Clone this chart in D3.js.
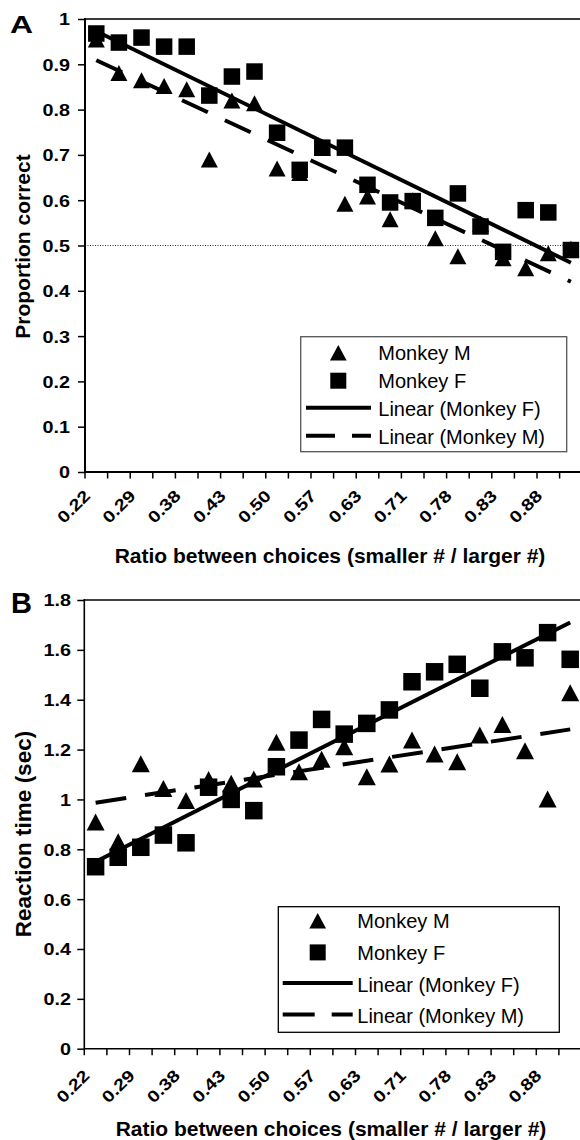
<!DOCTYPE html>
<html><head><meta charset="utf-8">
<script src="https://cdn.jsdelivr.net/npm/d3@7"></script>
<style>
body{margin:0;background:#fff}
svg{display:block}
text{font-family:"Liberation Sans",Arial,Helvetica,sans-serif;fill:#000}
</style>
</head><body>
<svg id="chart" width="580" height="1140"></svg>
<script>
// ---------------- DATA ----------------
const categories = ["0.22","0.25","0.29","0.33","0.38","0.40","0.43","0.45","0.50","0.53","0.57","0.60",
                    "0.63","0.67","0.71","0.75","0.78","0.80","0.83","0.86","0.88","0.90"];
// Panel A : proportion correct
const accuracyMonkeyM = [0.955,0.881,0.865,0.852,0.845,0.690,0.820,0.814,0.670,0.660,0.715,0.592,
                         0.608,0.558,0.600,0.516,0.476,0.548,0.472,0.450,0.483,0.493];
const accuracyMonkeyF = [0.968,0.948,0.959,0.939,0.939,0.831,0.873,0.884,0.749,0.667,0.716,0.716,
                         0.634,0.595,0.598,0.561,0.615,0.542,0.486,0.578,0.573,0.490];
const accuracyTrendF = [0.973, 0.462];   // linear trend, first & last category
const accuracyTrendM = [0.909, 0.420];
const chanceLevel = 0.5;
const accuracyTicks = [0,0.1,0.2,0.3,0.4,0.5,0.6,0.7,0.8,0.9,1];
// Panel B : reaction time (sec)
const rtMonkeyM = [0.909,0.830,1.143,1.044,0.996,1.080,1.065,1.082,1.229,1.111,1.161,1.211,
                   1.091,1.142,1.238,1.182,1.151,1.258,1.301,1.195,1.002,1.428];
const rtMonkeyF = [0.730,0.768,0.808,0.857,0.826,1.049,1.000,0.955,1.131,1.238,1.321,1.262,
                   1.305,1.359,1.472,1.512,1.542,1.446,1.592,1.568,1.669,1.562];
const rtTrendF = [0.750, 1.710];
const rtTrendM = [0.987, 1.281];
const rtTicks = [0,0.2,0.4,0.6,0.8,1,1.2,1.4,1.6,1.8];
const legendLabels = ["Monkey M","Monkey F","Linear (Monkey F)","Linear (Monkey M)"];
const xTitle = "Ratio between choices (smaller # / larger #)";

// ---------------- DRAW ----------------
const svg = d3.select("#chart");
const fmt = d => String(+d.toFixed(1));
const SX = 1.2;     // horizontal stretch of tick labels
const TICKFONT = 16.5;

function triPath(w,h){
  const p = d3.path();
  p.moveTo(0,-h/2); p.lineTo(w/2,h/2); p.lineTo(-w/2,h/2); p.closePath();
  return p.toString();
}

function panel(cfg){
  const g = svg.append("g");
  const x = d3.scaleBand().domain(categories).range([cfg.left, cfg.left + 22.6*categories.length]).padding(0);
  const y = d3.scaleLinear().domain(cfg.yDomain).range([cfg.bottom, cfg.top]);
  const cx = c => x(c) + x.bandwidth()/2;
  const right = 580;

  // top border
  g.append("line").attr("x1",cfg.left).attr("x2",right).attr("y1",cfg.top).attr("y2",cfg.top)
    .attr("stroke",cfg.topColor).attr("stroke-width",cfg.topW);

  // reference line
  if (cfg.refLine !== undefined){
    g.append("line").attr("x1",cfg.left).attr("x2",right)
      .attr("y1",y(cfg.refLine)).attr("y2",y(cfg.refLine))
      .attr("stroke","#333").attr("stroke-width",1).attr("stroke-dasharray","1,1.5");
  }

  // y axis
  const ya = g.append("g").attr("transform",`translate(${cfg.left},0)`)
    .call(d3.axisLeft(y).tickValues(cfg.yTicks).tickFormat(fmt).tickSize(7).tickPadding(cfg.yPad).tickSizeOuter(0));
  ya.select(".domain").remove();
  ya.selectAll(".tick line").attr("stroke","#000").attr("stroke-width",1.5);
  ya.selectAll(".tick text")
    .attr("font-size",TICKFONT).attr("font-weight","bold").attr("fill","#000")
    .attr("font-family","'Liberation Sans',Arial,sans-serif").attr("dy","0.36em")
    .attr("x", -(7+cfg.yPad)/SX).attr("transform",`scale(${SX},1)`);
  g.append("line").attr("x1",cfg.left).attr("x2",cfg.left).attr("y1",cfg.top-1).attr("y2",cfg.bottom+1)
    .attr("stroke","#000").attr("stroke-width",cfg.axisW);

  // x axis line + boundary ticks
  g.append("line").attr("x1",cfg.left).attr("x2",right).attr("y1",cfg.bottom).attr("y2",cfg.bottom)
    .attr("stroke","#000").attr("stroke-width",cfg.axisW);
  const bounds = d3.range(categories.length+1).map(i => cfg.left + i*x.step());
  g.selectAll(".xt").data(bounds).join("line")
    .attr("x1",d=>d).attr("x2",d=>d).attr("y1",cfg.bottom).attr("y2",cfg.bottom+6.5)
    .attr("stroke","#000").attr("stroke-width",1.5);
  g.selectAll(".xl").data(categories.filter((c,i)=>i%2===0)).join("text")
    .attr("transform", c => `translate(${cx(c)-5},${cfg.bottom+cfg.xLabOff}) rotate(-45) scale(${SX},1)`)
    .attr("text-anchor","end").attr("font-size",TICKFONT).attr("font-weight","bold").text(c=>c);

  // markers: triangles (Monkey M) first, squares (Monkey F) on top
  g.selectAll(".tri").data(cfg.m).join("path")
    .attr("transform",(v,i)=>`translate(${cx(categories[i])},${y(v)})`)
    .attr("d",triPath(cfg.triW,cfg.triH)).attr("fill","#000");
  g.selectAll(".sq").data(cfg.f).join("rect")
    .attr("x",(v,i)=>cx(categories[i])-cfg.sq/2).attr("y",v=>y(v)-cfg.sq/2)
    .attr("width",cfg.sq).attr("height",cfg.sq).attr("fill","#000");

  // trend lines
  const first = categories[0], last = categories[categories.length-1];
  const line = d3.line().x(d=>cx(d[0])).y(d=>y(d[1]));
  g.append("path").attr("d",line([[first,cfg.tF[0]],[last,cfg.tF[1]]]))
    .attr("stroke","#000").attr("stroke-width",4).attr("fill","none");
  g.append("path").attr("d",line([[first,cfg.tM[0]],[last,cfg.tM[1]]]))
    .attr("stroke","#000").attr("stroke-width",4).attr("fill","none")
    .attr("stroke-dasharray",cfg.dash);

  // titles
  g.append("text").attr("x",cfg.xTitleX).attr("y",cfg.xTitleY).attr("text-anchor","middle")
    .attr("font-size",21).attr("font-weight","bold").text(xTitle);
  g.append("text").attr("transform",`translate(${cfg.yTitleX},${cfg.yTitleY}) rotate(-90)`)
    .attr("text-anchor","middle").attr("font-size",cfg.yTitleSize).attr("font-weight","bold").text(cfg.yTitle);
  const lt = g.append("text").attr("x",cfg.letterX).attr("y",cfg.letterY)
    .attr("font-size",cfg.letterSize).attr("font-weight","bold").text(cfg.letter);
  if (cfg.letterLen) lt.attr("textLength",cfg.letterLen).attr("lengthAdjust","spacingAndGlyphs");

  // legend
  const L = cfg.leg;
  g.append("rect").attr("x",L.x).attr("y",L.y).attr("width",L.w).attr("height",L.h)
    .attr("fill","#fff").attr("stroke",L.stroke).attr("stroke-width",1.3);
  g.selectAll(".lt").data(legendLabels).join("text")
    .attr("x",L.textX).attr("y",(d,i)=>L.base0 + i*L.step)
    .attr("font-size",20).text(d=>d);
  g.append("path").attr("transform",`translate(${L.symX},${L.base0-7.5})`)
    .attr("d",triPath(16.7,15.5)).attr("fill","#000");
  g.append("rect").attr("x",L.symX-8).attr("y",L.base0+L.step-7.5-8).attr("width",16).attr("height",16).attr("fill","#000");
  g.append("line").attr("x1",L.lineX1).attr("x2",L.lineX2)
    .attr("y1",L.base0+2*L.step-8.5).attr("y2",L.base0+2*L.step-8.5)
    .attr("stroke","#000").attr("stroke-width",4);
  g.append("line").attr("x1",L.lineX1).attr("x2",L.lineX2)
    .attr("y1",L.base0+3*L.step-8.5).attr("y2",L.base0+3*L.step-8.5)
    .attr("stroke","#000").attr("stroke-width",4).attr("stroke-dasharray",L.dash);
}

panel({
  left:85, top:19, bottom:472, yDomain:[0,1], yTicks:accuracyTicks, yPad:8,
  topColor:"#3a3a3a", topW:2, axisW:2, refLine:chanceLevel, xLabOff:25,
  m:accuracyMonkeyM, f:accuracyMonkeyF, triW:17, triH:16, sq:16.5,
  tF:accuracyTrendF, tM:accuracyTrendM, dash:"28.5,18.8",
  xTitleX:330, xTitleY:562.5, yTitleX:30, yTitleY:246.5, yTitleSize:21, yTitle:"Proportion correct",
  letter:"A", letterX:10, letterY:32.5, letterSize:24, letterLen:23,
  leg:{x:300.7,y:336.7,w:266,h:115,stroke:"#555",textX:378.3,base0:360.2,step:28,symX:338.3,
       lineX1:306,lineX2:371,dash:"29,17"}
});
panel({
  left:84.3, top:600, bottom:1048.7, yDomain:[0,1.8], yTicks:rtTicks, yPad:6.3,
  topColor:"#000", topW:1.5, axisW:1.6, xLabOff:28,
  m:rtMonkeyM, f:rtMonkeyF, triW:18, triH:17, sq:17.5,
  tF:rtTrendF, tM:rtTrendM, dash:"31,19",
  xTitleX:331, xTitleY:1136, yTitleX:31, yTitleY:834, yTitleSize:22.5, yTitle:"Reaction time (sec)",
  letter:"B", letterX:11, letterY:612.5, letterSize:29,
  leg:{x:278.3,y:906.7,w:281,h:125.6,stroke:"#000",textX:357.3,base0:928.3,step:31.6,symX:317.7,
       lineX1:282.7,lineX2:352.7,dash:"32,17"}
});
</script>
</body></html>
